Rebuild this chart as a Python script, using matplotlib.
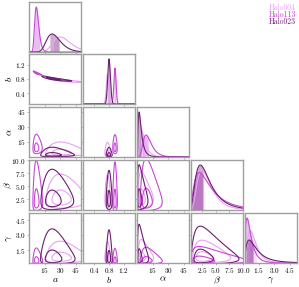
import numpy as np
import matplotlib.pyplot as plt

plt.rcParams['font.family'] = 'serif'
plt.rcParams['font.serif'] = ['cmr10']
plt.rcParams['mathtext.fontset'] = 'cm'
plt.rcParams['axes.formatter.use_mathtext'] = True

# parameters of the corner plot
labels = [r'$a$', r'$b$', r'$\alpha$', r'$\beta$', r'$\gamma$']
ranges = [(0, 50), (0.1, 1.5), (0, 50), (0.5, 10.0), (0.2, 5.2)]
ticks = [[15, 30, 45], [0.4, 0.8, 1.2], [15, 30, 45], [2.5, 5.0, 7.5, 10.0], [1.5, 3.0, 4.5]]

halos = ['Halo004', 'Halo113', 'Halo023']
colors = ['#e8a2f2', '#c846d8', '#6c1e70']

# posterior summaries (mode, log-width, 1D peak height)
mode_004 = [30.0, 0.76, 4.0, 2.5, 0.70]
mode_113 = [7.0, 0.96, 8.7, 2.0, 0.40]
mode_023 = [22.2, 0.80, 2.0, 2.2, 0.60]

width_004 = [0.28, 0.045, 0.60, 0.50, 0.56]
width_113 = [0.28, 0.030, 0.45, 0.72, 0.65]
width_023 = [0.30, 0.045, 0.70, 0.60, 0.78]

peak_004 = [0.30, 0.60, 0.55, 0.80, 0.65]
peak_113 = [0.90, 0.72, 0.44, 0.75, 0.90]
peak_023 = [0.36, 0.90, 0.90, 0.90, 0.46]

# a-b correlation
rho_ab = [-0.92, -0.92, -0.92]

# shaded intervals on the diagonal
shade_004 = [(23.5, 29.0), (0.73, 0.79), (1.0, 7.0), (0.8, 2.9), (0.6, 1.3)]
shade_113 = [(4.0, 10.5), (0.93, 0.99), (5.0, 11.0), (0.6, 2.6), (0.25, 0.95)]
shade_023 = [(20.0, 29.0), (0.77, 0.83), (0.5, 4.0), (0.5, 2.7), (0.3, 1.0)]

modes = [mode_004, mode_113, mode_023]
widths = [width_004, width_113, width_023]
peaks = [peak_004, peak_113, peak_023]
shades = [shade_004, shade_113, shade_023]


def pdf1(x, mode, s):
    mu = np.log(mode) + s ** 2
    return np.exp(-(np.log(x) - mu) ** 2 / (2 * s ** 2)) / x


def pdf2(X, Y, mx, sx, my, sy, r):
    u = (np.log(X) - np.log(mx) - sx ** 2) / sx
    v = (np.log(Y) - np.log(my) - sy ** 2) / sy
    q = (u ** 2 - 2 * r * u * v + v ** 2) / (1 - r ** 2)
    return np.exp(-q / 2) / (X * Y)


def levels_for(Z):
    z = np.sort(Z.ravel())[::-1]
    c = np.cumsum(z)
    c /= c[-1]
    return [z[np.searchsorted(c, 0.865)], z[np.searchsorted(c, 0.393)]]


n = len(labels)
W, H = 299, 287
col_left = [29, 83, 137, 191, 245]
row_top = [2, 54, 107, 160, 213]
pw, ph = 52, 50
frame = '#9f9f9f'

fig = plt.figure(figsize=(W / 100, H / 100), dpi=100)

for i in range(n):
    for j in range(i + 1):
        ax = fig.add_axes([col_left[j] / W, 1 - (row_top[i] + ph) / H, pw / W, ph / H])
        lo_x, hi_x = ranges[j]
        if i == j:
            x = np.linspace(max(lo_x, 1e-3), hi_x, 400)
            for h in range(3):
                y = pdf1(x, modes[h][j], widths[h][j])
                y = y / y.max() * peaks[h][j]
                ax.plot(x, y, color=colors[h], lw=0.8)
                s0, s1 = shades[h][j]
                m = (x >= s0) & (x <= s1)
                ax.fill_between(x[m], 0, y[m], color=colors[h], alpha=0.35, lw=0)
            ax.set_ylim(0, 1)
            ax.set_yticks([])
        else:
            lo_y, hi_y = ranges[i]
            gx = np.linspace(max(lo_x, 1e-3) * 0.5 + 1e-3, hi_x * 1.6, 260)
            gy = np.linspace(max(lo_y, 1e-3) * 0.5 + 1e-3, hi_y * 1.6, 260)
            X, Y = np.meshgrid(gx, gy)
            for h in range(3):
                r = rho_ab[h] if (j == 0 and i == 1) else 0.0
                Z = pdf2(X, Y, modes[h][j], widths[h][j], modes[h][i], widths[h][i], r)
                ax.contour(X, Y, Z, levels=levels_for(Z), colors=colors[h], linewidths=0.8)
            ax.set_ylim(lo_y, hi_y)
            ax.set_yticks(ticks[i])
        ax.set_xlim(lo_x, hi_x)
        ax.set_xticks(ticks[j])
        for sp in ax.spines.values():
            sp.set_color(frame)
            sp.set_linewidth(1.0)
        ax.tick_params(length=1.5, width=0.5, color=frame, labelsize=5.2, pad=0.8)
        if i == n - 1:
            ax.set_xlabel(labels[j], fontsize=7)
            ax.xaxis.set_label_coords(0.5, -0.245)
        else:
            ax.set_xticklabels([])
        if j == 0 and i > 0:
            ax.set_ylabel(labels[i], fontsize=7)
            ax.yaxis.set_label_coords(-0.29, 0.5)
        elif i != j:
            ax.set_yticklabels([])

for h in range(3):
    fig.text(296 / W, 1 - (7.5 + 7.3 * h) / H, halos[h], color=colors[h],
             fontsize=5.6, ha='right', va='center')

fig.savefig('out.png', dpi=100)
